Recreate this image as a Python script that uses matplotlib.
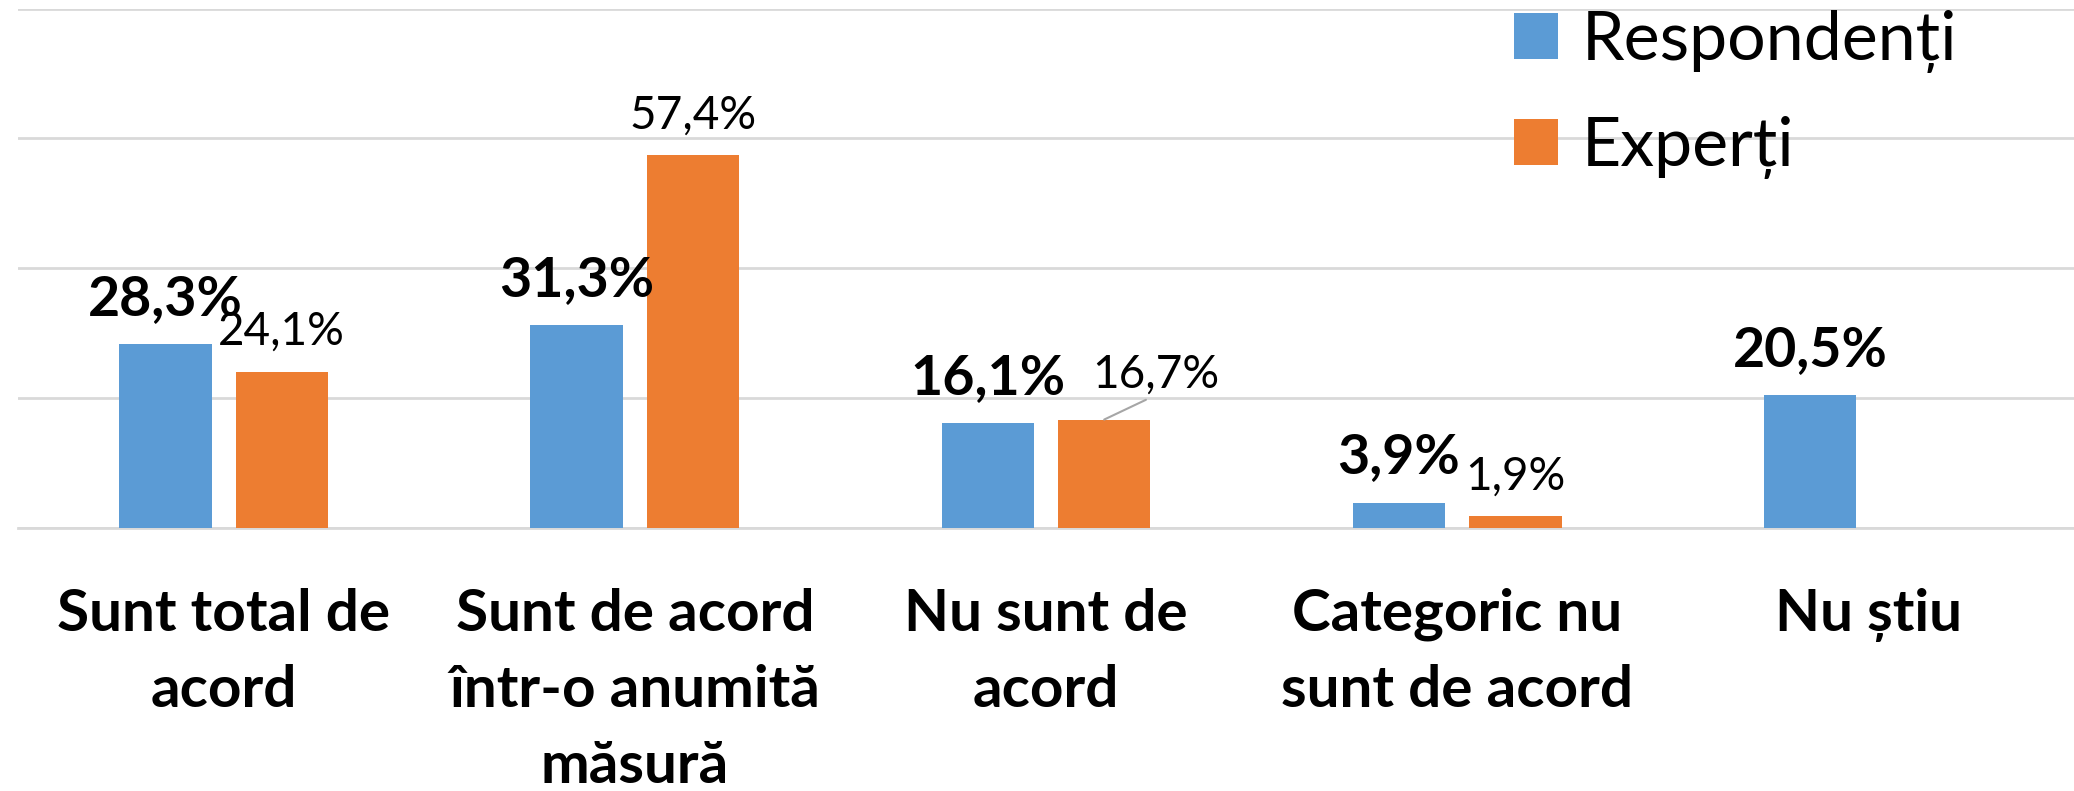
import matplotlib
matplotlib.use("Agg")
import matplotlib.pyplot as plt
import numpy as np

plt.rcParams["font.family"] = ["Lato", "DejaVu Sans"]

# ── Data ─────────────────────────────────────────────────────────────────────
categories = [
    "Sunt total de\nacord",
    "Sunt de acord\nîntr-o anumită\nmăsură",
    "Nu sunt de\nacord",
    "Categoric nu\nsunt de acord",
    "Nu știu",
]
respondenti = [28.3, 31.3, 16.1, 3.9, 20.5]
experti = [24.1, 57.4, 16.7, 1.9, None]
series_names = ["Respondenți", "Experți"]

BLUE = "#5B9BD5"
ORANGE = "#ED7D31"
GRID = "#D9D9D9"


def fmt(v):
    return f"{v:.1f}%".replace(".", ",")


fig = plt.figure(figsize=(20.74, 7.91), dpi=100)
ax = fig.add_axes([18 / 2074, 1 - 528 / 791, 1 - 18 / 2074, (528 - 8.6) / 791])

x = np.arange(len(categories))
w = 0.225
off = 0.1415

resp_x = x - off
exp_idx = [i for i, v in enumerate(experti) if v is not None]
exp_x = x[exp_idx] + off
exp_v = [experti[i] for i in exp_idx]

ax.bar(resp_x, respondenti, width=w, color=BLUE, label=series_names[0], zorder=3)
ax.bar(exp_x, exp_v, width=w, color=ORANGE, label=series_names[1], zorder=3)

# data labels
for xi, v in zip(resp_x, respondenti):
    ax.annotate(fmt(v), (xi, v), xytext=(0, 21), textcoords="offset points",
                ha="center", va="baseline", fontsize=40, fontweight="bold",
                zorder=5)

for i, xi, v in zip(exp_idx, exp_x, exp_v):
    if i == 2:
        # label pulled aside with a leader line
        ax.annotate(fmt(v), (xi, v), xytext=(37, 23.3), textcoords="offset points",
                    ha="center", va="baseline", fontsize=33, zorder=5,
                    arrowprops=dict(arrowstyle="-", color="#A6A6A6", lw=1.5,
                                    relpos=(0.5, 0), shrinkA=3, shrinkB=0))
    else:
        ax.annotate(fmt(v), (xi, v), xytext=(0, 19), textcoords="offset points",
                    ha="center", va="baseline", fontsize=33, zorder=5)

ax.set_xlim(-0.5, len(categories) - 0.5)
ax.set_ylim(0, 80)
ax.set_yticks([0, 20, 40, 60, 80])
ax.yaxis.grid(True, color=GRID, lw=2)
ax.tick_params(axis="y", left=False, labelleft=False)
ax.set_xticks(x)
ax.set_xticklabels(categories, fontsize=42, fontweight="bold", linespacing=1.54)
ax.tick_params(axis="x", length=0, pad=43)
for s in ["top", "right", "left"]:
    ax.spines[s].set_visible(False)
ax.spines["bottom"].set_color(GRID)
ax.spines["bottom"].set_linewidth(2)
ax.set_axisbelow(True)

ax.legend(loc="upper left", bbox_to_anchor=(1514 / 2074, 1 - 10 / 791),
          bbox_transform=fig.transFigure, frameon=False, fontsize=49,
          handlelength=0.65, handleheight=0.65, handletextpad=0.35,
          labelspacing=0.63, borderpad=0, borderaxespad=0)

fig.savefig("out.png", dpi=100)
